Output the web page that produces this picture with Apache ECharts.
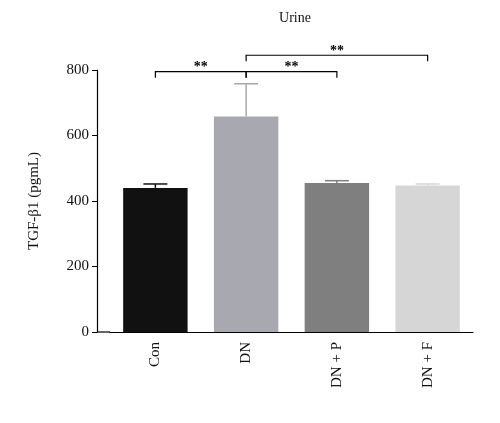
<!DOCTYPE html>
<html><head><meta charset="utf-8">
<script src="https://cdn.jsdelivr.net/npm/echarts@6/dist/echarts.min.js"></script>
<style>html,body{margin:0;background:#fff}#c{width:500px;height:423px}</style>
</head><body><div id="c"></div>
<script>
const categories = ['Con', 'DN', 'DN + P', 'DN + F'];
const values = [440, 658, 455, 447];
const errors = [12, 100, 7, 5];
const colors = ['#111111', '#a8a8b0', '#7f7f7f', '#d6d6d6'];
const yTicks = [0, 200, 400, 600, 800];
// brackets: [from, to, y value, label]
const brackets = [[0, 1, 795, '**'], [1, 2, 795, '**'], [1, 3, 845, '**']];

const font = 'Liberation Serif';
const chart = echarts.init(document.getElementById('c'));

chart.setOption({
  animation: false,
  title: { text: 'Urine', left: 290, top: 6, textAlign: 'center',
    textStyle: { fontFamily: font, fontSize: 14, fontWeight: 'normal', color: '#111' } },
  grid: { left: 110, right: 27, top: 70, bottom: 91 },
  graphic: [{ type: 'line', shape: { x1: 97, y1: 332, x2: 110, y2: 332 }, style: { stroke: '#000', lineWidth: 1.2 } }],
  xAxis: {
    type: 'category', data: categories,
    axisLine: { lineStyle: { color: '#000', width: 1.2 } },
    axisTick: { show: false },
    axisLabel: { rotate: 90, fontFamily: font, fontSize: 15, color: '#111', margin: 10 }
  },
  yAxis: {
    type: 'value', min: 0, max: 800, interval: 200, offset: 13,
    name: 'TGF-β1 (pgmL)', nameLocation: 'middle', nameGap: 55,
    nameTextStyle: { fontFamily: font, fontSize: 15, color: '#111' },
    axisLine: { show: true, lineStyle: { color: '#000', width: 1.2 } },
    axisTick: { show: true, length: 5, lineStyle: { color: '#000' } },
    axisLabel: { fontFamily: font, fontSize: 15, color: '#111', margin: 8,
      formatter: v => yTicks.includes(v) ? String(v) : '' },
    splitLine: { show: false }
  },
  series: [
    {
      type: 'bar', barWidth: '71%',
      data: values.map((v, i) => ({ value: v, itemStyle: { color: colors[i] } }))
    },
    {
      type: 'custom', z: 1,
      data: values.map((v, i) => [i, v, v + errors[i]]),
      renderItem: (params, api) => {
        const base = api.coord([api.value(0), api.value(1)]);
        const top = api.coord([api.value(0), api.value(2)]);
        const w = 12;
        return { type: 'group', children: [
          { type: 'line', shape: { x1: base[0], y1: base[1], x2: top[0], y2: top[1] }, style: { stroke: colors[params.dataIndex], lineWidth: 1.5 } },
          { type: 'line', shape: { x1: top[0] - w, y1: top[1], x2: top[0] + w, y2: top[1] }, style: { stroke: colors[params.dataIndex], lineWidth: 1.5 } }
        ] };
      }
    },
    {
      type: 'custom', z: 3, clip: false,
      data: brackets,
      renderItem: (params, api) => {
        const a = api.coord([api.value(0), api.value(2)]);
        const b = api.coord([api.value(1), api.value(2)]);
        const d = 6;
        return { type: 'group', children: [
          { type: 'polyline', shape: { points: [[a[0], a[1] + d], [a[0], a[1]], [b[0], b[1]], [b[0], b[1] + d]] }, style: { stroke: '#000', fill: null, lineWidth: 1.2 } },
          { type: 'text', style: { text: brackets[params.dataIndex][3], x: (a[0] + b[0]) / 2, y: a[1] + 3, align: 'center', verticalAlign: 'bottom', font: 'bold 14px ' + font, fill: '#000' } }
        ] };
      }
    }
  ]
});
</script></body></html>
